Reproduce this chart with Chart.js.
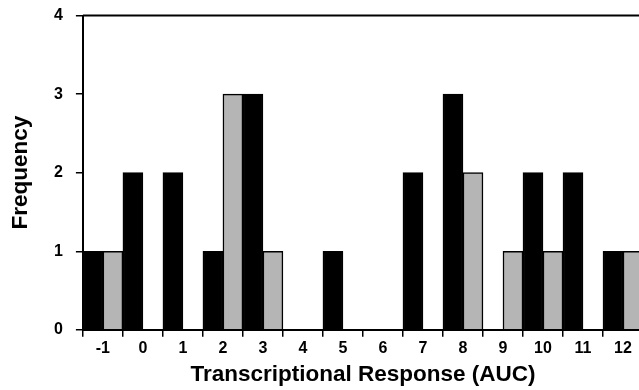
<!DOCTYPE html>
<html>
<head>
    <title>Transcriptional Response</title>
    <script src="https://cdn.jsdelivr.net/npm/chart.js"></script>
    <style>
        body { margin: 0; overflow: hidden; background: #fff; }
        #wrap { width: 645px; height: 399px; margin-top: -7px; }
    </style>
</head>
<body>
    <div id="wrap"><canvas id="histChart"></canvas></div>

    <script>
        // valores
        const categorias = ['-1', '0', '1', '2', '3', '4', '5', '6', '7', '8', '9', '10', '11', '12'];
        const serieEscura = [1, 2, 2, 1, 3, 0, 1, 0, 2, 3, 0, 2, 2, 1];
        const serieClara = [1, 0, 0, 3, 1, 0, 0, 0, 0, 2, 1, 1, 0, 1];
        const ticksY = [0, 1, 2, 3, 4];

        // linha superior da moldura
        const molduraTopo = {
            id: 'molduraTopo',
            afterDraw(chart) {
                const { ctx, chartArea } = chart;
                ctx.save();
                ctx.strokeStyle = '#000';
                ctx.lineWidth = 2;
                ctx.beginPath();
                ctx.moveTo(chartArea.left, chartArea.top);
                ctx.lineTo(chartArea.right, chartArea.top);
                ctx.stroke();
                ctx.restore();
            }
        };

        const fonteTick = { family: 'Liberation Sans, Arial, sans-serif', size: 16, weight: 'bold' };
        const fonteTitulo = { family: 'Liberation Sans, Arial, sans-serif', size: 22.5, weight: 'bold' };

        new Chart(document.getElementById('histChart'), {
            type: 'bar',
            data: {
                labels: categorias,
                datasets: [
                    {
                        data: serieEscura,
                        backgroundColor: '#000',
                        borderColor: '#000',
                        borderWidth: 1.5,
                        categoryPercentage: 1,
                        barPercentage: 1
                    },
                    {
                        data: serieClara,
                        backgroundColor: '#b5b5b5',
                        borderColor: '#000',
                        borderWidth: 1.5,
                        categoryPercentage: 1,
                        barPercentage: 1
                    }
                ]
            },
            options: {
                responsive: true,
                maintainAspectRatio: false,
                animation: false,
                layout: { padding: { top: 1, right: 2, left: 3, bottom: 0 } },
                plugins: {
                    legend: { display: false },
                    tooltip: { enabled: false }
                },
                scales: {
                    x: {
                        grid: { offset: true, drawOnChartArea: false, color: '#000', tickLength: 7, lineWidth: 1.5 },
                        border: { color: '#000', width: 2 },
                        ticks: { color: '#000', font: fonteTick, padding: 2, maxRotation: 0, autoSkip: false },
                        title: { display: true, text: 'Transcriptional Response (AUC)', color: '#000', font: fonteTitulo, padding: { top: 1 } }
                    },
                    y: {
                        min: 0,
                        max: 4,
                        afterBuildTicks(axis) { axis.ticks = ticksY.map(v => ({ value: v })); },
                        grid: { drawOnChartArea: false, color: '#000', tickLength: 7, lineWidth: 1.5 },
                        border: { color: '#000', width: 2 },
                        ticks: { color: '#000', font: fonteTick, padding: 13 },
                        title: { display: true, text: 'Frequency', color: '#000', font: fonteTitulo, padding: { bottom: 7 } }
                    }
                }
            },
            plugins: [molduraTopo]
        });
    </script>
</body>
</html>
